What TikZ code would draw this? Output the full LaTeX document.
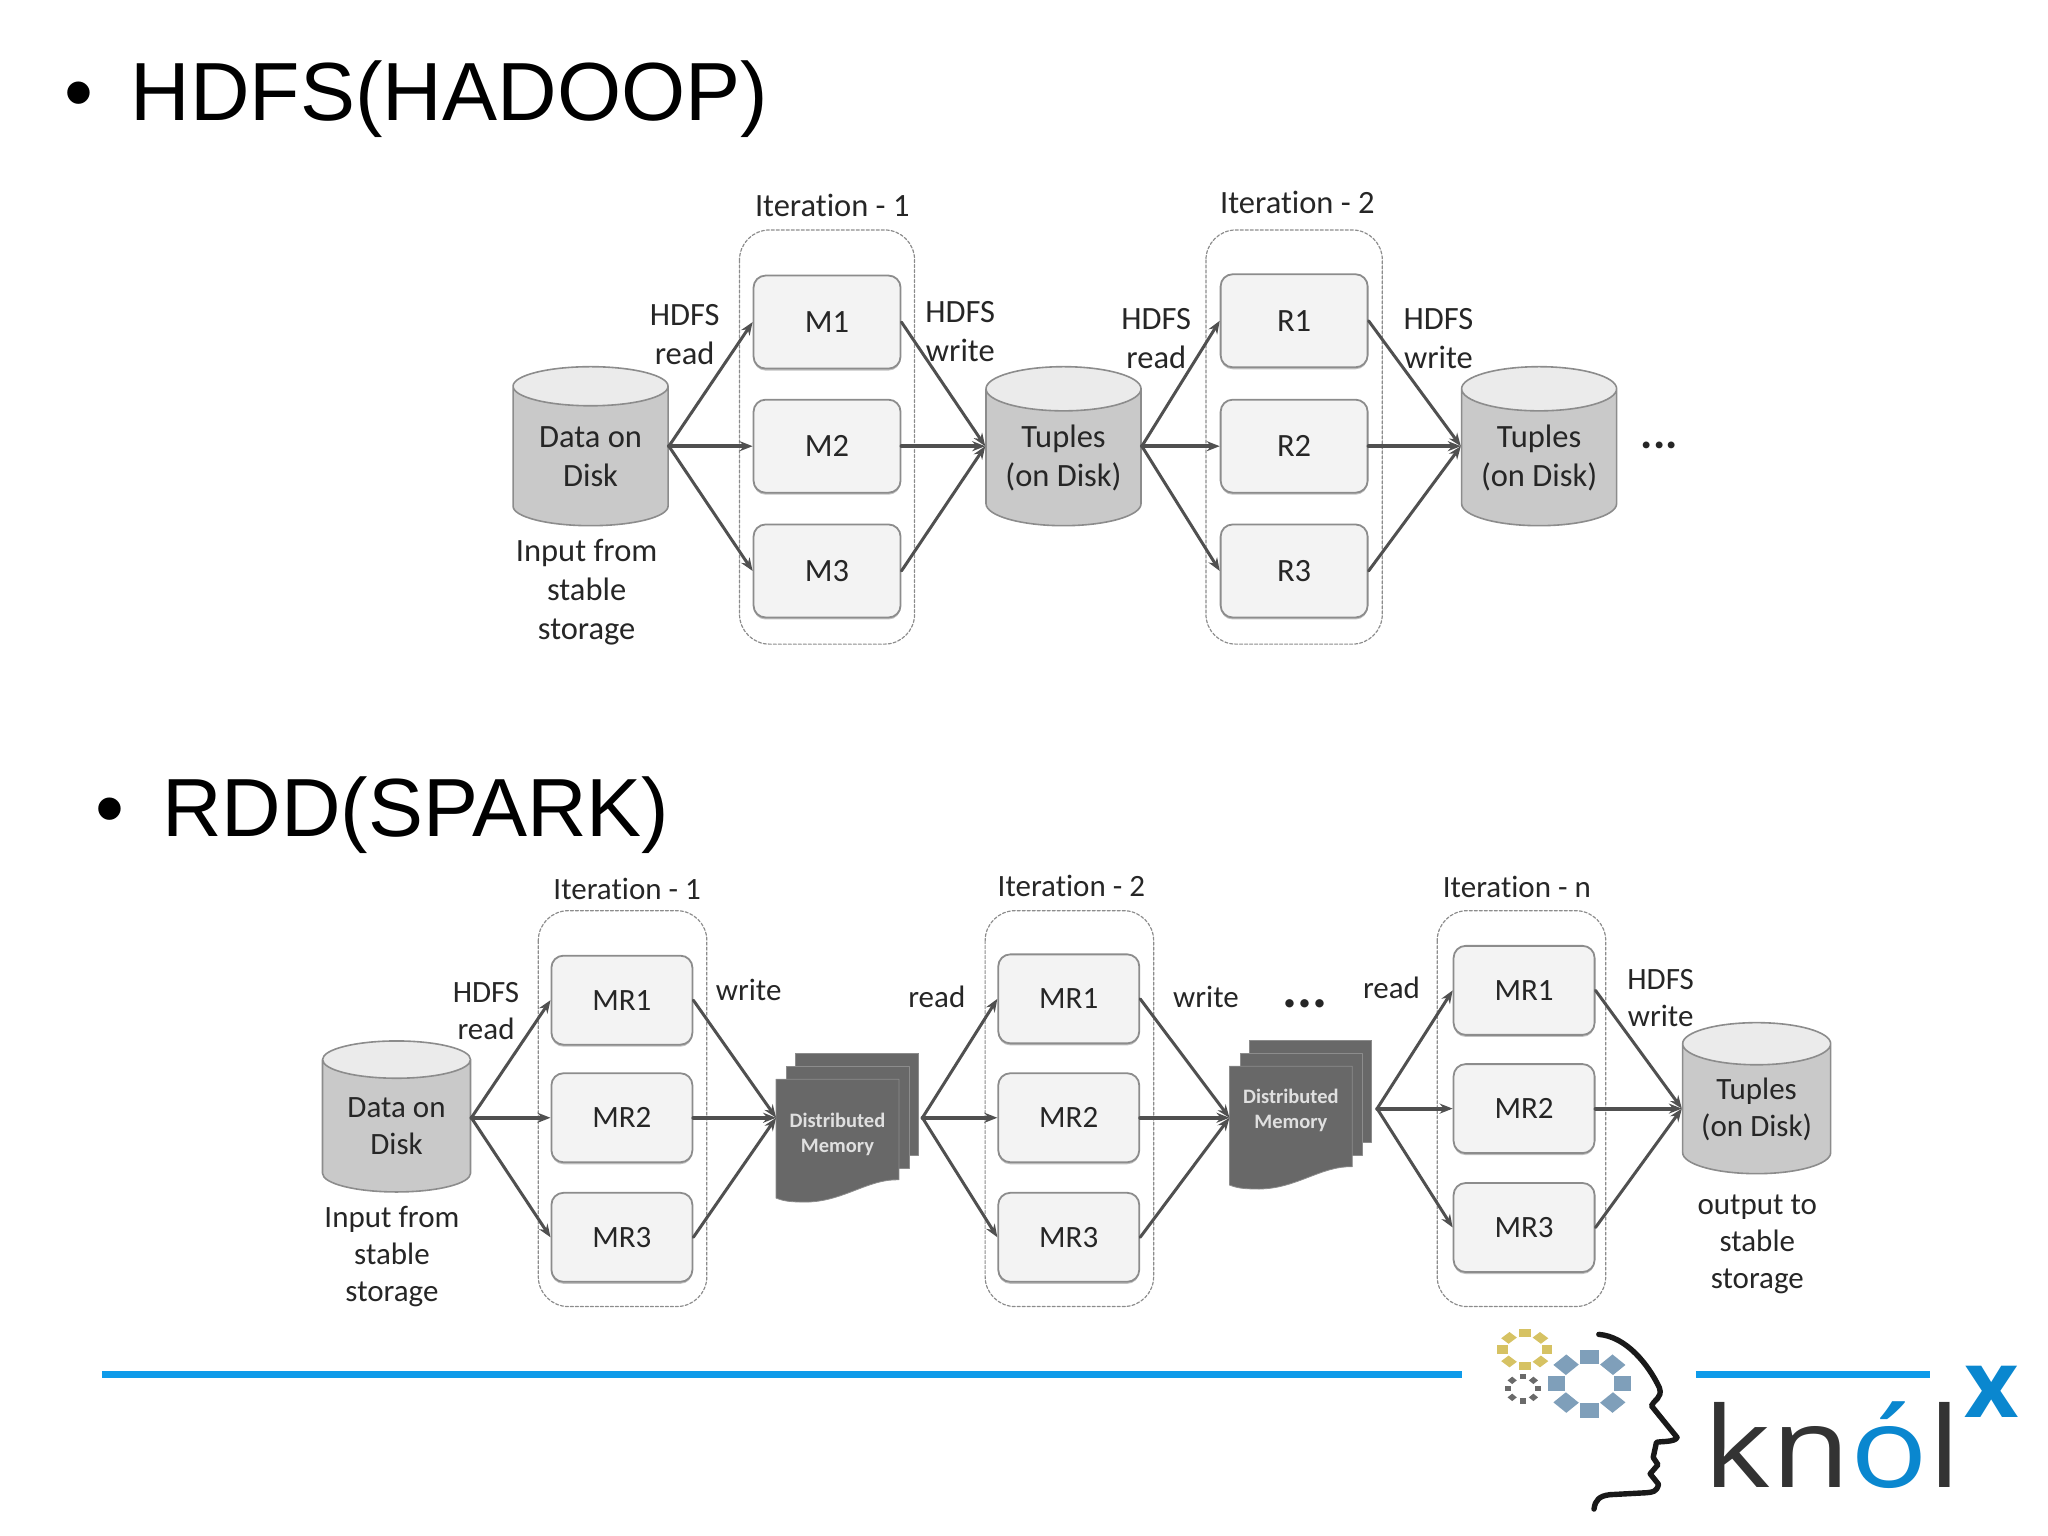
\documentclass[tikz,border=0pt]{standalone}
\usepackage{fontspec}
\setmainfont{Liberation Sans}
\newfontfamily\labfont[Ligatures=NoCommon]{Carlito}
\newfontfamily\logofont{Open Sans}
\usetikzlibrary{shapes.geometric,arrows.meta,shadows}
\definecolor{linegray}{HTML}{505050}
\definecolor{bordergray}{HTML}{8C8C8C}
\definecolor{boxfill}{HTML}{F3F3F3}
\definecolor{cylbody}{HTML}{C9C9C9}
\definecolor{cylend}{HTML}{EBEBEB}
\definecolor{sheetgray}{HTML}{686868}
\definecolor{rulblue}{HTML}{0E9BEA}
\definecolor{logoblue}{HTML}{0A87CF}
\definecolor{logodark}{HTML}{333333}
\definecolor{geargold}{HTML}{D6C263}
\definecolor{gearblue}{HTML}{7F9FBA}
\definecolor{geargray}{HTML}{6A6A6A}
\tikzset{
	conn/.style={draw=linegray,line width=3pt},
	connin/.style={conn,-{Stealth[length=13pt,width=10pt]}},
	connmid/.style={connin,line width=3.8pt},
	maptitle/.style={font=\fontsize{82.5}{96}\selectfont,anchor=base west,inner sep=0pt,text=black},
	lab/.style={font=\labfont\fontsize{32.5}{39}\selectfont,align=center,inner sep=0pt,text=black!85},
	labs/.style={font=\labfont\fontsize{31}{37}\selectfont,align=center,inner sep=0pt,text=black!85},
	taskbox/.style={draw=bordergray,fill=boxfill,line width=1.8pt,rounded corners=12pt,inner sep=0pt,font=\labfont\fontsize{32.5}{39}\selectfont,text=black!85,drop shadow={shadow xshift=0pt,shadow yshift=-2pt,fill=black!40,opacity=.6}},
	mbox/.style={taskbox,minimum width=147pt,minimum height=93pt},
	mrbox/.style={taskbox,minimum width=141pt,minimum height=89pt,font=\labfont\fontsize{31}{37}\selectfont},
	disk/.style={cylinder,shape border rotate=90,shape aspect=0.38,cylinder uses custom fill,cylinder body fill=cylbody,cylinder end fill=cylend,draw=bordergray,line width=1.6pt,inner sep=0pt,minimum width=155pt,minimum height=159pt,align=center,anchor=shape center,text=black!85},
	diskh/.style={disk,font=\labfont\fontsize{32.5}{39}\selectfont},
	disks/.style={disk,font=\labfont\fontsize{31}{37}\selectfont,minimum width=148pt,minimum height=151pt},
	iterbox/.style={draw=bordergray,dash pattern=on 3pt off 2pt,line width=1.2pt,rounded corners=30pt},
	sheet/.style={fill=sheetgray,draw=black!45,line width=.8pt},
	memlab/.style={font=\labfont\bfseries\fontsize{20.5}{25}\selectfont,align=center,inner sep=0pt,text=white!88!black},
	dots/.style={font=\labfont\bfseries\fontsize{46}{46}\selectfont,inner sep=0pt,text=black!85},
	docstack/.pic={
		\draw[sheet] (15,-20) rectangle (109,58);
		\draw[sheet] (8,-10) rectangle (102,68);
		\draw[sheet] (0,0)--(94,0)--(94,77) .. controls (70,76) and (50,95) .. (20,94) .. controls (10,94) and (5,93) .. (0,91)--cycle;
	},
}
\begin{document}
\begin{tikzpicture}[line join=round,line cap=round,>=stealth,x=1.3065pt,y=-1.3065pt]
	\useasboundingbox (0,0) rectangle (1567.5,1174.9);
	% headings
	\node[maptitle] (bulhdfs) at (49,92) {•};
	\node[maptitle] (hdfs) at (100,92) {HDFS(HADOOP)};
	\node[maptitle] (bulrdd) at (73,640) {•};
	\node[maptitle] (rdd) at (124,640) {RDD(SPARK)};
	% hadoop row
	\draw[iterbox] (566,176) rectangle (700,493);
	\draw[iterbox] (923,176) rectangle (1058,493);
	\node[lab] (iterh1) at (637,157) {Iteration - 1};
	\node[lab] (iterh2) at (993,155) {Iteration - 2};
	\node[diskh] (datah) at (452,341.5) {Data on\\Disk};
	\node[diskh] (tupa) at (814,341.5) {Tuples\\(on Disk)};
	\node[diskh] (tupb) at (1178,341.5) {Tuples\\(on Disk)};
	\node[mbox] (m1) at (633,246.5) {M1};
	\node[mbox] (m2) at (633,341.5) {M2};
	\node[mbox] (m3) at (633,437) {M3};
	\node[mbox] (r1) at (990.5,245.5) {R1};
	\node[mbox] (r2) at (990.5,341.5) {R2};
	\node[mbox] (r3) at (990.5,437) {R3};
	\coordinate (datahout) at (datah.east |- m2.east);
	\coordinate (tupain) at (tupa.west |- m2.east);
	\coordinate (tupaout) at (tupa.east |- m2.east);
	\coordinate (tupbin) at (tupb.west |- m2.east);
	\foreach \i/\s in {1/connin,2/connmid,3/connin}{
		\draw[\s] (datahout)--(m\i.west);
		\draw[\s] (tupaout)--(r\i.west);
		\draw[\s] (m\i.east)--(tupain);
		\draw[\s] (r\i.east)--(tupbin);
	}
	\node[lab] (hrd1) at (524,256) {HDFS\\read};
	\node[lab] (hwr1) at (735,254) {HDFS\\write};
	\node[lab] (hrd2) at (885,259) {HDFS\\read};
	\node[lab] (hwr2) at (1101,259) {HDFS\\write};
	\node[lab] (inh) at (449,453.5) {Input from\\stable\\storage};
	\node[dots] (doth) at (1270,341) {...};
	% spark row
	\draw[iterbox] (412,697) rectangle (541,1000);
	\draw[iterbox] (754,697) rectangle (883,1000);
	\draw[iterbox] (1100,697) rectangle (1229,1000);
	\node[labs] (iters1) at (480,680) {Iteration - 1};
	\node[labs] (iters2) at (820,678) {Iteration - 2};
	\node[labs] (itersn) at (1161,679) {Iteration - n};
	\node[disks] (datas) at (303.5,854.5) {Data on\\Disk};
	\node[disks] (tups) at (1344.5,840.5) {Tuples\\(on Disk)};
	\node[mrbox] (a1) at (476,765.5) {MR1};
	\node[mrbox] (a2) at (476,855.5) {MR2};
	\node[mrbox] (a3) at (476,947) {MR3};
	\node[mrbox] (b1) at (818,764.5) {MR1};
	\node[mrbox] (b2) at (818,855.5) {MR2};
	\node[mrbox] (b3) at (818,947) {MR3};
	\node[mrbox] (c1) at (1166.5,758) {MR1};
	\node[mrbox] (c2) at (1166.5,848.5) {MR2};
	\node[mrbox] (c3) at (1166.5,939.5) {MR3};
	\pic (dma) at (594,826) {docstack};
	\pic (dmb) at (941,816) {docstack};
	\node[memlab] (dmatxt) at (641,868.5) {Distributed\\Memory};
	\node[memlab] (dmbtxt) at (988,849.5) {Distributed\\Memory};
	\coordinate (datasout) at (datas.east |- a2.east);
	\coordinate (dmain) at (594,855.5);
	\coordinate (dmaout) at (706,855.5);
	\coordinate (dmbin) at (941,855.5);
	\coordinate (dmbout) at (1054,848.5);
	\coordinate (tupsin) at (tups.west |- c2.east);
	\foreach \i/\s in {1/connin,2/connmid,3/connin}{
		\draw[\s] (datasout)--(a\i.west);
		\draw[\s] (dmaout)--(b\i.west);
		\draw[\s] (dmbout)--(c\i.west);
		\draw[\s] (a\i.east)--(dmain);
		\draw[\s] (b\i.east)--(dmbin);
		\draw[\s] (c\i.east)--(tupsin);
	}
	\node[labs] (srd1) at (372,774) {HDFS\\read};
	\node[labs] (swr1) at (573,758) {write};
	\node[labs] (srd2) at (717,763) {read};
	\node[labs] (swr2) at (923,763) {write};
	\node[labs] (srd3) at (1065,756) {read};
	\node[labs] (swr3) at (1271,764) {HDFS\\write};
	\node[labs] (ins) at (300,962) {Input from\\stable\\storage};
	\node[labs] (outs) at (1345,952.5) {output to\\stable\\storage};
	\node[dots,font=\labfont\bfseries\fontsize{56}{56}\selectfont] (dots) at (999,768) {...};
	% rule and logo
	\draw[rulblue,line width=6.5pt,line cap=butt] (78,1052)--(1119,1052);
	\draw[rulblue,line width=6.5pt,line cap=butt] (1298,1052)--(1477,1052);
	\draw[black!90,line width=5.4pt] (1223.7,1021.3) .. controls (1245,1023) and (1262,1045) .. (1270,1062) .. controls (1273,1070) and (1265,1072) .. (1264,1076) -- (1283.6,1100.2) .. controls (1282,1104) and (1270,1103) .. (1267.8,1104) -- (1265.3,1115.5) -- (1269,1121) -- (1263,1128) -- (1269.4,1136) .. controls (1268,1142) and (1265,1142) .. (1260,1142.5) -- (1232,1144) .. controls (1224,1145) and (1221,1148) .. (1220,1155);
	\begin{scope}[shift={(1216.5,1059)},yscale=.81]
		\foreach \a in {0,45,...,315}
			\fill[gearblue,rotate=\a] (18.5,-7) rectangle (32,7);
	\end{scope}
	\begin{scope}[shift={(1167,1033)},yscale=.75]
		\foreach \a in {0,45,...,315}
			\fill[geargold,rotate=\a] (13,-4.5) rectangle (21,4.5);
	\end{scope}
	\begin{scope}[shift={(1165.5,1063)},yscale=.8]
		\foreach \a in {0,45,...,315}
			\fill[geargray,rotate=\a] (9,-2.5) rectangle (14,2.5);
	\end{scope}
	\node[font=\logofont\fontsize{112}{112}\selectfont,anchor=base west,inner sep=0pt,text=logodark] (knol) at (1304,1138.5) {\scalebox{1.15}[1]{kn{\color{logoblue}ó}l}};
	\node[font=\logofont\bfseries\fontsize{94}{94}\selectfont,anchor=base,inner sep=0pt,text=logoblue] (logox) at (1524,1085) {x};
\end{tikzpicture}
\end{document}
